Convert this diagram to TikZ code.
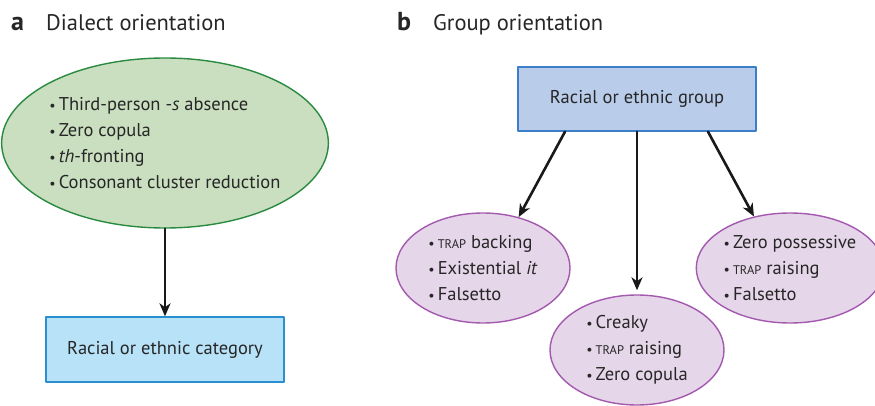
\documentclass[tikz,border=0pt]{standalone}
\usepackage{fontspec}
\setmainfont{PT Sans}
\usetikzlibrary{shapes.geometric,arrows.meta}
\definecolor{dialectfill}{HTML}{C9DFBF}
\definecolor{dialectline}{HTML}{2A8A40}
\definecolor{catfill}{HTML}{B8E2F8}
\definecolor{catline}{HTML}{2A8FD0}
\definecolor{groupfill}{HTML}{B9CCEA}
\definecolor{groupline}{HTML}{3A7FC8}
\definecolor{featfill}{HTML}{E6D6EA}
\definecolor{featline}{HTML}{A35AAE}
\newcommand{\trapword}{{\fontsize{12.5}{12.5}\selectfont TRAP}}
\newcommand{\itm}{{\fontsize{14}{14}\selectfont •}\hspace{3pt}}

\begin{document}
\begin{tikzpicture}[line cap=round,line join=round,>={Stealth[length=13pt,width=11pt,inset=4pt]},x=1pt,y=-1pt,
  txt/.style={font=\fontsize{18.5}{26}\selectfont,text=black!85,align=left},
  title/.style={font=\fontsize{22.5}{26}\selectfont,text=black!85,anchor=base west,inner sep=0pt},
  greenoval/.style={txt,ellipse,draw=dialectline,fill=dialectfill,line width=1.4pt,minimum width=310pt,minimum height=170pt,inner sep=0pt},
  purpleoval/.style={txt,ellipse,draw=featline,fill=featfill,line width=1.4pt,minimum width=174pt,minimum height=110pt,inner sep=0pt},
  catbox/.style={txt,draw=catline,fill=catfill,line width=1.4pt,minimum width=238pt,minimum height=65pt,inner sep=0pt},
  groupbox/.style={txt,draw=groupline,fill=groupfill,line width=1.4pt,minimum width=238pt,minimum height=64pt,inner sep=0pt},
  link/.style={->,line width=2.6pt,black!90}]
\useasboundingbox (0,0) rectangle (875,406);
% panel titles
\node[title] (ta) at (11,31) {{\fontsize{26}{26}\selectfont\textbf{a}}\hspace{22pt}Dialect orientation};
\node[title] (tb) at (397,31) {{\fontsize{26}{26}\selectfont\textbf{b}}\hspace{22pt}Group orientation};
% a
\node[greenoval] (dialect) at (165,143) {\itm Third-person -\textit{s} absence\\\itm Zero copula\\\itm \textit{th}-fronting\\\itm Consonant cluster reduction};
\node[catbox] (category) at (165,349.5) {Racial or ethnic category};
\draw[link] (dialect.south) -- (category.north);
% b
\node[groupbox] (group) at (637,99) {Racial or ethnic group};
\node[purpleoval] (featleft) at (483,268) {\itm \trapword{} backing\\\itm Existential \textit{it}\\\itm Falsetto};
\node[purpleoval] (featmid) at (637,350) {\itm Creaky\\\itm \trapword{} raising\\\itm Zero copula};
\node[purpleoval] (featright) at (790,268) {\itm Zero possessive\\\itm \trapword{} raising\\\itm Falsetto};
\draw[link] ([xshift=-72pt]group.south) -- (featleft.55);
\draw[link,shorten >=4pt] (group.south) -- (featmid.north);
\draw[link] ([xshift=71pt]group.south) -- (featright.125);
\end{tikzpicture}
\end{document}
